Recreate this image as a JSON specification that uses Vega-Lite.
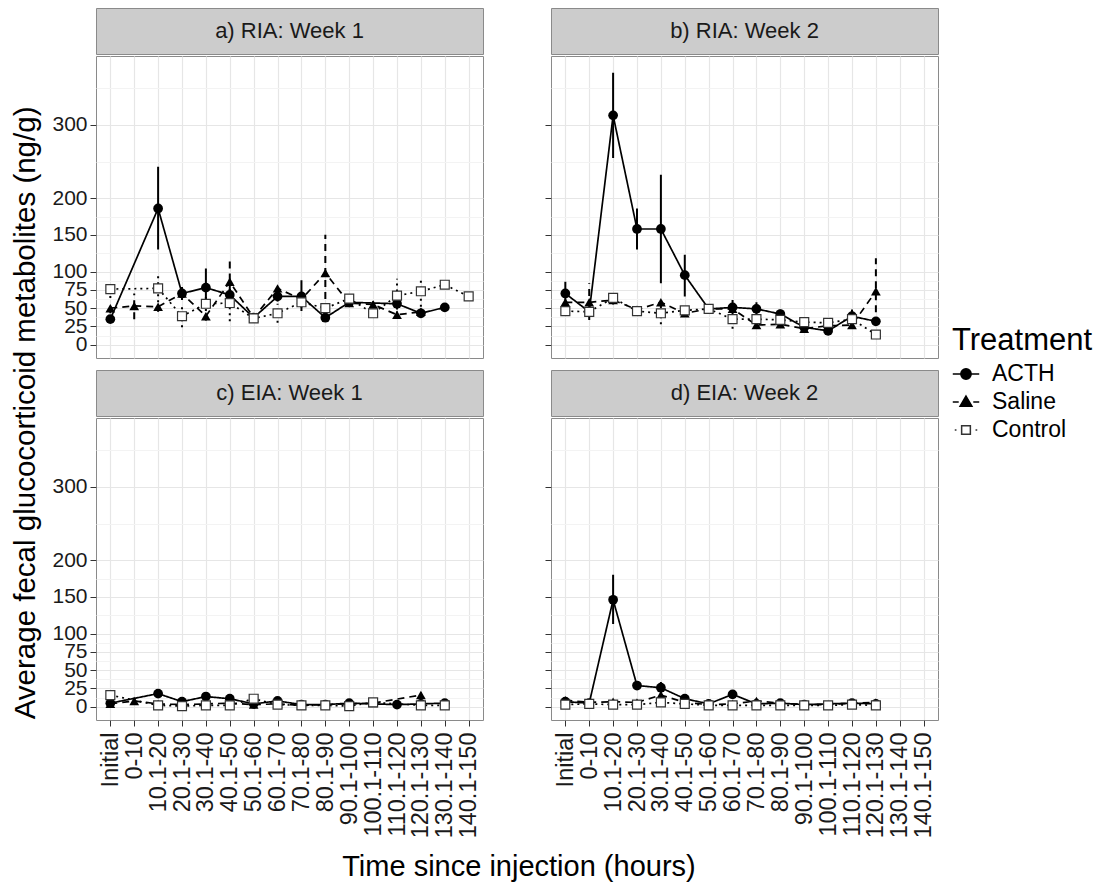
{
"$schema": "https://vega.github.io/schema/vega-lite/v6.json",
"padding": {"left": 10, "top": 7, "right": 0, "bottom": 0},
"config": {"font": "Liberation Sans"},
"datasets": {"d": [
{"p":"a","g":"ACTH","k":0,"t":"Initial","m":35,"lo":31,"hi":39},
{"p":"a","g":"ACTH","k":2,"t":"10.1-20","m":186,"lo":130,"hi":243},
{"p":"a","g":"ACTH","k":3,"t":"20.1-30","m":70,"lo":61,"hi":79},
{"p":"a","g":"ACTH","k":4,"t":"30.1-40","m":78,"lo":52,"hi":104},
{"p":"a","g":"ACTH","k":5,"t":"40.1-50","m":68,"lo":60,"hi":76},
{"p":"a","g":"ACTH","k":6,"t":"50.1-60","m":37,"lo":33,"hi":41},
{"p":"a","g":"ACTH","k":7,"t":"60.1-70","m":66,"lo":59,"hi":73},
{"p":"a","g":"ACTH","k":8,"t":"70.1-80","m":66,"lo":46,"hi":88},
{"p":"a","g":"ACTH","k":9,"t":"80.1-90","m":37,"lo":33,"hi":41},
{"p":"a","g":"ACTH","k":10,"t":"90.1-100","m":58,"lo":53,"hi":63},
{"p":"a","g":"ACTH","k":12,"t":"110.1-120","m":56,"lo":49,"hi":63},
{"p":"a","g":"ACTH","k":13,"t":"120.1-130","m":43,"lo":39,"hi":47},
{"p":"a","g":"ACTH","k":14,"t":"130.1-140","m":51,"lo":48,"hi":54},
{"p":"a","g":"Saline","k":0,"t":"Initial","m":50,"lo":43,"hi":57},
{"p":"a","g":"Saline","k":1,"t":"0-10","m":53,"lo":35,"hi":70},
{"p":"a","g":"Saline","k":2,"t":"10.1-20","m":52,"lo":45,"hi":59},
{"p":"a","g":"Saline","k":3,"t":"20.1-30","m":70,"lo":62,"hi":78},
{"p":"a","g":"Saline","k":4,"t":"30.1-40","m":39,"lo":33,"hi":45},
{"p":"a","g":"Saline","k":5,"t":"40.1-50","m":86,"lo":55,"hi":117},
{"p":"a","g":"Saline","k":6,"t":"50.1-60","m":37,"lo":33,"hi":41},
{"p":"a","g":"Saline","k":7,"t":"60.1-70","m":77,"lo":69,"hi":85},
{"p":"a","g":"Saline","k":8,"t":"70.1-80","m":62,"lo":56,"hi":68},
{"p":"a","g":"Saline","k":9,"t":"80.1-90","m":98,"lo":46,"hi":150},
{"p":"a","g":"Saline","k":10,"t":"90.1-100","m":57,"lo":52,"hi":62},
{"p":"a","g":"Saline","k":11,"t":"100.1-110","m":55,"lo":50,"hi":60},
{"p":"a","g":"Saline","k":12,"t":"110.1-120","m":41,"lo":36,"hi":46},
{"p":"a","g":"Saline","k":13,"t":"120.1-130","m":45,"lo":40,"hi":50},
{"p":"a","g":"Control","k":0,"t":"Initial","m":76,"lo":64,"hi":88},
{"p":"a","g":"Control","k":2,"t":"10.1-20","m":77,"lo":58,"hi":98},
{"p":"a","g":"Control","k":3,"t":"20.1-30","m":39,"lo":24,"hi":52},
{"p":"a","g":"Control","k":4,"t":"30.1-40","m":56,"lo":46,"hi":66},
{"p":"a","g":"Control","k":5,"t":"40.1-50","m":57,"lo":32,"hi":88},
{"p":"a","g":"Control","k":6,"t":"50.1-60","m":36,"lo":30,"hi":42},
{"p":"a","g":"Control","k":7,"t":"60.1-70","m":43,"lo":30,"hi":56},
{"p":"a","g":"Control","k":8,"t":"70.1-80","m":58,"lo":51,"hi":65},
{"p":"a","g":"Control","k":9,"t":"80.1-90","m":50,"lo":44,"hi":56},
{"p":"a","g":"Control","k":10,"t":"90.1-100","m":63,"lo":57,"hi":69},
{"p":"a","g":"Control","k":11,"t":"100.1-110","m":43,"lo":38,"hi":48},
{"p":"a","g":"Control","k":12,"t":"110.1-120","m":67,"lo":48,"hi":90},
{"p":"a","g":"Control","k":13,"t":"120.1-130","m":73,"lo":52,"hi":92},
{"p":"a","g":"Control","k":14,"t":"130.1-140","m":82,"lo":77,"hi":87},
{"p":"a","g":"Control","k":15,"t":"140.1-150","m":66,"lo":61,"hi":71},
{"p":"b","g":"ACTH","k":0,"t":"Initial","m":70,"lo":57,"hi":86},
{"p":"b","g":"ACTH","k":1,"t":"0-10","m":45,"lo":40,"hi":50},
{"p":"b","g":"ACTH","k":2,"t":"10.1-20","m":313,"lo":255,"hi":371},
{"p":"b","g":"ACTH","k":3,"t":"20.1-30","m":158,"lo":130,"hi":186},
{"p":"b","g":"ACTH","k":4,"t":"30.1-40","m":158,"lo":84,"hi":232},
{"p":"b","g":"ACTH","k":5,"t":"40.1-50","m":95,"lo":66,"hi":123},
{"p":"b","g":"ACTH","k":6,"t":"50.1-60","m":49,"lo":43,"hi":55},
{"p":"b","g":"ACTH","k":7,"t":"60.1-70","m":51,"lo":41,"hi":61},
{"p":"b","g":"ACTH","k":8,"t":"70.1-80","m":49,"lo":40,"hi":58},
{"p":"b","g":"ACTH","k":9,"t":"80.1-90","m":42,"lo":36,"hi":48},
{"p":"b","g":"ACTH","k":10,"t":"90.1-100","m":24,"lo":19,"hi":29},
{"p":"b","g":"ACTH","k":11,"t":"100.1-110","m":19,"lo":15,"hi":23},
{"p":"b","g":"ACTH","k":12,"t":"110.1-120","m":39,"lo":30,"hi":48},
{"p":"b","g":"ACTH","k":13,"t":"120.1-130","m":32,"lo":26,"hi":38},
{"p":"b","g":"Saline","k":0,"t":"Initial","m":58,"lo":50,"hi":66},
{"p":"b","g":"Saline","k":1,"t":"0-10","m":58,"lo":34,"hi":84},
{"p":"b","g":"Saline","k":2,"t":"10.1-20","m":61,"lo":55,"hi":67},
{"p":"b","g":"Saline","k":3,"t":"20.1-30","m":48,"lo":43,"hi":53},
{"p":"b","g":"Saline","k":4,"t":"30.1-40","m":58,"lo":50,"hi":66},
{"p":"b","g":"Saline","k":5,"t":"40.1-50","m":43,"lo":38,"hi":48},
{"p":"b","g":"Saline","k":6,"t":"50.1-60","m":49,"lo":44,"hi":54},
{"p":"b","g":"Saline","k":7,"t":"60.1-70","m":49,"lo":44,"hi":54},
{"p":"b","g":"Saline","k":8,"t":"70.1-80","m":27,"lo":22,"hi":32},
{"p":"b","g":"Saline","k":9,"t":"80.1-90","m":28,"lo":23,"hi":33},
{"p":"b","g":"Saline","k":10,"t":"90.1-100","m":22,"lo":18,"hi":26},
{"p":"b","g":"Saline","k":11,"t":"100.1-110","m":26,"lo":22,"hi":30},
{"p":"b","g":"Saline","k":12,"t":"110.1-120","m":27,"lo":22,"hi":32},
{"p":"b","g":"Saline","k":13,"t":"120.1-130","m":73,"lo":28,"hi":118},
{"p":"b","g":"Control","k":0,"t":"Initial","m":46,"lo":40,"hi":52},
{"p":"b","g":"Control","k":1,"t":"0-10","m":45,"lo":39,"hi":51},
{"p":"b","g":"Control","k":2,"t":"10.1-20","m":64,"lo":58,"hi":70},
{"p":"b","g":"Control","k":3,"t":"20.1-30","m":46,"lo":41,"hi":51},
{"p":"b","g":"Control","k":4,"t":"30.1-40","m":43,"lo":28,"hi":58},
{"p":"b","g":"Control","k":5,"t":"40.1-50","m":47,"lo":42,"hi":52},
{"p":"b","g":"Control","k":6,"t":"50.1-60","m":49,"lo":45,"hi":53},
{"p":"b","g":"Control","k":7,"t":"60.1-70","m":35,"lo":22,"hi":48},
{"p":"b","g":"Control","k":8,"t":"70.1-80","m":35,"lo":29,"hi":41},
{"p":"b","g":"Control","k":9,"t":"80.1-90","m":34,"lo":29,"hi":39},
{"p":"b","g":"Control","k":10,"t":"90.1-100","m":31,"lo":27,"hi":35},
{"p":"b","g":"Control","k":11,"t":"100.1-110","m":30,"lo":26,"hi":34},
{"p":"b","g":"Control","k":12,"t":"110.1-120","m":35,"lo":25,"hi":45},
{"p":"b","g":"Control","k":13,"t":"120.1-130","m":14,"lo":10,"hi":18},
{"p":"c","g":"ACTH","k":0,"t":"Initial","m":5,"lo":2,"hi":8},
{"p":"c","g":"ACTH","k":2,"t":"10.1-20","m":18,"lo":14,"hi":22},
{"p":"c","g":"ACTH","k":3,"t":"20.1-30","m":7,"lo":4,"hi":10},
{"p":"c","g":"ACTH","k":4,"t":"30.1-40","m":14,"lo":10,"hi":18},
{"p":"c","g":"ACTH","k":5,"t":"40.1-50","m":11,"lo":8,"hi":14},
{"p":"c","g":"ACTH","k":6,"t":"50.1-60","m":4,"lo":2,"hi":6},
{"p":"c","g":"ACTH","k":7,"t":"60.1-70","m":8,"lo":5,"hi":11},
{"p":"c","g":"ACTH","k":8,"t":"70.1-80","m":3,"lo":1,"hi":5},
{"p":"c","g":"ACTH","k":9,"t":"80.1-90","m":3,"lo":1,"hi":5},
{"p":"c","g":"ACTH","k":10,"t":"90.1-100","m":5,"lo":3,"hi":7},
{"p":"c","g":"ACTH","k":12,"t":"110.1-120","m":3,"lo":1,"hi":5},
{"p":"c","g":"ACTH","k":13,"t":"120.1-130","m":4,"lo":2,"hi":6},
{"p":"c","g":"ACTH","k":14,"t":"130.1-140","m":5,"lo":3,"hi":7},
{"p":"c","g":"Saline","k":0,"t":"Initial","m":4,"lo":2,"hi":6},
{"p":"c","g":"Saline","k":1,"t":"0-10","m":8,"lo":5,"hi":11},
{"p":"c","g":"Saline","k":2,"t":"10.1-20","m":4,"lo":2,"hi":6},
{"p":"c","g":"Saline","k":3,"t":"20.1-30","m":3,"lo":1,"hi":5},
{"p":"c","g":"Saline","k":4,"t":"30.1-40","m":4,"lo":2,"hi":6},
{"p":"c","g":"Saline","k":5,"t":"40.1-50","m":5,"lo":3,"hi":7},
{"p":"c","g":"Saline","k":6,"t":"50.1-60","m":3,"lo":1,"hi":5},
{"p":"c","g":"Saline","k":7,"t":"60.1-70","m":4,"lo":2,"hi":6},
{"p":"c","g":"Saline","k":8,"t":"70.1-80","m":2,"lo":1,"hi":3},
{"p":"c","g":"Saline","k":9,"t":"80.1-90","m":3,"lo":1,"hi":5},
{"p":"c","g":"Saline","k":10,"t":"90.1-100","m":4,"lo":2,"hi":6},
{"p":"c","g":"Saline","k":11,"t":"100.1-110","m":5,"lo":3,"hi":7},
{"p":"c","g":"Saline","k":13,"t":"120.1-130","m":16,"lo":10,"hi":22},
{"p":"c","g":"Control","k":0,"t":"Initial","m":16,"lo":9,"hi":24},
{"p":"c","g":"Control","k":2,"t":"10.1-20","m":2,"lo":1,"hi":3},
{"p":"c","g":"Control","k":3,"t":"20.1-30","m":1,"lo":0,"hi":2},
{"p":"c","g":"Control","k":4,"t":"30.1-40","m":2,"lo":1,"hi":3},
{"p":"c","g":"Control","k":5,"t":"40.1-50","m":2,"lo":1,"hi":3},
{"p":"c","g":"Control","k":6,"t":"50.1-60","m":11,"lo":6,"hi":16},
{"p":"c","g":"Control","k":7,"t":"60.1-70","m":3,"lo":1,"hi":5},
{"p":"c","g":"Control","k":8,"t":"70.1-80","m":2,"lo":1,"hi":3},
{"p":"c","g":"Control","k":9,"t":"80.1-90","m":2,"lo":1,"hi":3},
{"p":"c","g":"Control","k":10,"t":"90.1-100","m":1,"lo":0,"hi":2},
{"p":"c","g":"Control","k":11,"t":"100.1-110","m":6,"lo":3,"hi":9},
{"p":"c","g":"Control","k":13,"t":"120.1-130","m":2,"lo":1,"hi":3},
{"p":"c","g":"Control","k":14,"t":"130.1-140","m":2,"lo":1,"hi":3},
{"p":"d","g":"ACTH","k":0,"t":"Initial","m":7,"lo":4,"hi":10},
{"p":"d","g":"ACTH","k":1,"t":"0-10","m":5,"lo":3,"hi":7},
{"p":"d","g":"ACTH","k":2,"t":"10.1-20","m":146,"lo":113,"hi":180},
{"p":"d","g":"ACTH","k":3,"t":"20.1-30","m":29,"lo":25,"hi":33},
{"p":"d","g":"ACTH","k":4,"t":"30.1-40","m":26,"lo":18,"hi":34},
{"p":"d","g":"ACTH","k":5,"t":"40.1-50","m":11,"lo":8,"hi":14},
{"p":"d","g":"ACTH","k":6,"t":"50.1-60","m":4,"lo":2,"hi":6},
{"p":"d","g":"ACTH","k":7,"t":"60.1-70","m":17,"lo":13,"hi":21},
{"p":"d","g":"ACTH","k":8,"t":"70.1-80","m":4,"lo":2,"hi":6},
{"p":"d","g":"ACTH","k":9,"t":"80.1-90","m":5,"lo":3,"hi":7},
{"p":"d","g":"ACTH","k":10,"t":"90.1-100","m":3,"lo":1,"hi":5},
{"p":"d","g":"ACTH","k":12,"t":"110.1-120","m":5,"lo":3,"hi":7},
{"p":"d","g":"ACTH","k":13,"t":"120.1-130","m":4,"lo":2,"hi":6},
{"p":"d","g":"Saline","k":0,"t":"Initial","m":9,"lo":6,"hi":12},
{"p":"d","g":"Saline","k":1,"t":"0-10","m":6,"lo":4,"hi":8},
{"p":"d","g":"Saline","k":2,"t":"10.1-20","m":7,"lo":5,"hi":9},
{"p":"d","g":"Saline","k":3,"t":"20.1-30","m":6,"lo":4,"hi":8},
{"p":"d","g":"Saline","k":4,"t":"30.1-40","m":16,"lo":9,"hi":23},
{"p":"d","g":"Saline","k":5,"t":"40.1-50","m":6,"lo":4,"hi":8},
{"p":"d","g":"Saline","k":6,"t":"50.1-60","m":3,"lo":1,"hi":5},
{"p":"d","g":"Saline","k":7,"t":"60.1-70","m":4,"lo":2,"hi":6},
{"p":"d","g":"Saline","k":8,"t":"70.1-80","m":8,"lo":5,"hi":11},
{"p":"d","g":"Saline","k":9,"t":"80.1-90","m":5,"lo":3,"hi":7},
{"p":"d","g":"Saline","k":10,"t":"90.1-100","m":3,"lo":1,"hi":5},
{"p":"d","g":"Saline","k":11,"t":"100.1-110","m":3,"lo":1,"hi":5},
{"p":"d","g":"Saline","k":12,"t":"110.1-120","m":5,"lo":3,"hi":7},
{"p":"d","g":"Saline","k":13,"t":"120.1-130","m":6,"lo":4,"hi":8},
{"p":"d","g":"Control","k":0,"t":"Initial","m":3,"lo":1,"hi":5},
{"p":"d","g":"Control","k":1,"t":"0-10","m":4,"lo":2,"hi":6},
{"p":"d","g":"Control","k":2,"t":"10.1-20","m":3,"lo":1,"hi":5},
{"p":"d","g":"Control","k":3,"t":"20.1-30","m":3,"lo":1,"hi":5},
{"p":"d","g":"Control","k":4,"t":"30.1-40","m":6,"lo":1,"hi":11},
{"p":"d","g":"Control","k":5,"t":"40.1-50","m":4,"lo":2,"hi":6},
{"p":"d","g":"Control","k":6,"t":"50.1-60","m":2,"lo":1,"hi":3},
{"p":"d","g":"Control","k":7,"t":"60.1-70","m":2,"lo":1,"hi":3},
{"p":"d","g":"Control","k":8,"t":"70.1-80","m":2,"lo":1,"hi":3},
{"p":"d","g":"Control","k":9,"t":"80.1-90","m":2,"lo":1,"hi":3},
{"p":"d","g":"Control","k":10,"t":"90.1-100","m":2,"lo":1,"hi":3},
{"p":"d","g":"Control","k":11,"t":"100.1-110","m":2,"lo":1,"hi":3},
{"p":"d","g":"Control","k":12,"t":"110.1-120","m":3,"lo":1,"hi":5},
{"p":"d","g":"Control","k":13,"t":"120.1-130","m":2,"lo":1,"hi":3}
]},
"title": {"text": "Average fecal glucocorticoid metabolites (ng/g)", "orient": "left", "anchor": "middle", "fontSize": 29.5, "fontWeight": "normal", "color": "#000000", "offset": 10, "dx": 32},
"spacing": 10,
"vconcat": [
{"spacing": 60, "hconcat": [
 {"spacing": 0, "vconcat": [
  {"width": 387, "height": 46, "view": {"fill": "#cccccc", "stroke": "#8a8a8a"}, "data": {"values": [{"s": "a) RIA: Week 1"}]}, "mark": {"type": "text", "fontSize": 22, "color": "#1a1a1a"}, "encoding": {"text": {"field": "s", "type": "nominal"}}},
  {"width": 387, "height": 302, "view": {"stroke": "#8a8a8a"}, "data": {"name": "d"}, "transform": [{"filter": "datum.p === 'a'"}], "resolve": {"axis": {"y": "independent"}},
   "layer": [
    {"mark": {"type": "rule", "color": "black", "strokeWidth": 2}, "encoding": {
      "x": {"field": "t", "type": "nominal", "scale": {"type": "point", "padding": 0.6, "domain": ["Initial","0-10","10.1-20","20.1-30","30.1-40","40.1-50","50.1-60","60.1-70","70.1-80","80.1-90","90.1-100","100.1-110","110.1-120","120.1-130","130.1-140","140.1-150"]}, "axis": {"title": null, "labels": false, "ticks": false, "domain": false, "grid": true, "gridColor": "#e6e6e6", "gridWidth": 1.2}},
      "y": {"field": "lo", "type": "quantitative", "scale": {"domain": [-18, 394], "nice": false, "zero": false}, "axis": {"title": null, "values": [0,25,50,75,100,150,200,300], "labelOverlap": false, "labelFontSize": 21, "labelColor": "#1a1a1a", "labelPadding": 3, "tickSize": 6, "tickColor": "#333333", "domain": false, "grid": true, "gridColor": "#e6e6e6", "gridWidth": 1.2}},
      "y2": {"field": "hi"},
      "strokeDash": {"field": "g", "type": "nominal", "scale": {"range": [[1,0],[2,4],[7,5]]}, "legend": null}}},
    {"mark": {"type": "line", "color": "black", "strokeWidth": 1.7}, "encoding": {
      "x": {"field": "t", "type": "nominal"},
      "y": {"field": "m", "type": "quantitative", "axis": {"orient": "left", "title": null, "values": [12.5,37.5,62.5,87.5,125,175,250,350], "labels": false, "ticks": false, "domain": false, "grid": true, "gridColor": "#f3f3f3"}},
      "strokeDash": {"field": "g", "type": "nominal", "scale": {"range": [[1,0],[2,4],[7,5]]}, "legend": null},
      "order": {"field": "k", "type": "quantitative"}}},
    {"transform": [{"filter": "datum.g === 'ACTH'"}], "mark": {"type": "point", "shape": "circle", "filled": true, "color": "black", "opacity": 1, "size": 95}, "encoding": {"x": {"field": "t", "type": "nominal"}, "y": {"field": "m", "type": "quantitative", "axis": null}}},
    {"transform": [{"filter": "datum.g === 'Saline'"}], "mark": {"type": "point", "shape": "triangle-up", "filled": true, "color": "black", "opacity": 1, "size": 95}, "encoding": {"x": {"field": "t", "type": "nominal"}, "y": {"field": "m", "type": "quantitative", "axis": null}}},
    {"transform": [{"filter": "datum.g === 'Control'"}], "mark": {"type": "point", "shape": "square", "fill": "white", "stroke": "#333333", "strokeWidth": 1.2, "opacity": 1, "size": 80}, "encoding": {"x": {"field": "t", "type": "nominal"}, "y": {"field": "m", "type": "quantitative", "axis": null}}},
    {"mark": {"type": "point", "filled": true, "opacity": 0}, "encoding": {
      "shape": {"field": "g", "type": "nominal", "scale": {"domain": ["ACTH","Saline","Control"], "range": ["M-1,0L1,0M0.39,0A0.39,0.39,0,1,1,-0.39,0A0.39,0.39,0,1,1,0.39,0Z", "M-1,0L-0.55,0M0.55,0L1,0M0,-0.45L0.45,0.33L-0.45,0.33Z", "M-0.85,0L-0.72,0M0.72,0L0.85,0M-0.33,-0.33L0.33,-0.33L0.33,0.33L-0.33,0.33Z"]}, "legend": {"title": "Treatment", "orient": "none", "legendX": 856, "legendY": 318, "padding": 0, "titleFontSize": 31, "titleFontWeight": "normal", "titleColor": "#000000", "titlePadding": 3, "labelFontSize": 23, "labelColor": "#000000", "symbolSize": 700, "symbolStrokeWidth": 1.5, "symbolOpacity": 1, "labelOffset": 12, "rowPadding": 2}},
      "fill": {"field": "g", "type": "nominal", "scale": {"domain": ["ACTH","Saline","Control"], "range": ["black","black","white"]}, "legend": {"title": "Treatment", "orient": "none", "legendX": 856, "legendY": 318, "padding": 0, "titleFontSize": 31, "titleFontWeight": "normal", "titleColor": "#000000", "titlePadding": 3, "labelFontSize": 23, "labelColor": "#000000", "symbolSize": 700, "symbolStrokeWidth": 1.5, "symbolOpacity": 1, "labelOffset": 12, "rowPadding": 2}},
      "stroke": {"field": "g", "type": "nominal", "scale": {"domain": ["ACTH","Saline","Control"], "range": ["black","black","#333333"]}, "legend": {"title": "Treatment", "orient": "none", "legendX": 856, "legendY": 318, "padding": 0, "titleFontSize": 31, "titleFontWeight": "normal", "titleColor": "#000000", "titlePadding": 3, "labelFontSize": 23, "labelColor": "#000000", "symbolSize": 700, "symbolStrokeWidth": 1.5, "symbolOpacity": 1, "labelOffset": 12, "rowPadding": 2}}}}
   ]}
 ]},
 {"spacing": 0, "vconcat": [
  {"width": 387, "height": 46, "view": {"fill": "#cccccc", "stroke": "#8a8a8a"}, "data": {"values": [{"s": "b) RIA: Week 2"}]}, "mark": {"type": "text", "fontSize": 22, "color": "#1a1a1a"}, "encoding": {"text": {"field": "s", "type": "nominal"}}},
  {"width": 387, "height": 302, "view": {"stroke": "#8a8a8a"}, "data": {"name": "d"}, "transform": [{"filter": "datum.p === 'b'"}], "resolve": {"axis": {"y": "independent"}},
   "layer": [
    {"mark": {"type": "rule", "color": "black", "strokeWidth": 2}, "encoding": {
      "x": {"field": "t", "type": "nominal", "scale": {"type": "point", "padding": 0.6, "domain": ["Initial","0-10","10.1-20","20.1-30","30.1-40","40.1-50","50.1-60","60.1-70","70.1-80","80.1-90","90.1-100","100.1-110","110.1-120","120.1-130","130.1-140","140.1-150"]}, "axis": {"title": null, "labels": false, "ticks": false, "domain": false, "grid": true, "gridColor": "#e6e6e6", "gridWidth": 1.2}},
      "y": {"field": "lo", "type": "quantitative", "scale": {"domain": [-18, 394], "nice": false, "zero": false}, "axis": {"title": null, "values": [0,25,50,75,100,150,200,300], "labels": false, "tickSize": 6, "tickColor": "#333333", "domain": false, "grid": true, "gridColor": "#e6e6e6", "gridWidth": 1.2}},
      "y2": {"field": "hi"},
      "strokeDash": {"field": "g", "type": "nominal", "scale": {"range": [[1,0],[2,4],[7,5]]}, "legend": null}}},
    {"mark": {"type": "line", "color": "black", "strokeWidth": 1.7}, "encoding": {
      "x": {"field": "t", "type": "nominal"},
      "y": {"field": "m", "type": "quantitative", "axis": {"orient": "left", "title": null, "values": [12.5,37.5,62.5,87.5,125,175,250,350], "labels": false, "ticks": false, "domain": false, "grid": true, "gridColor": "#f3f3f3"}},
      "strokeDash": {"field": "g", "type": "nominal", "scale": {"range": [[1,0],[2,4],[7,5]]}, "legend": null},
      "order": {"field": "k", "type": "quantitative"}}},
    {"transform": [{"filter": "datum.g === 'ACTH'"}], "mark": {"type": "point", "shape": "circle", "filled": true, "color": "black", "opacity": 1, "size": 95}, "encoding": {"x": {"field": "t", "type": "nominal"}, "y": {"field": "m", "type": "quantitative", "axis": null}}},
    {"transform": [{"filter": "datum.g === 'Saline'"}], "mark": {"type": "point", "shape": "triangle-up", "filled": true, "color": "black", "opacity": 1, "size": 95}, "encoding": {"x": {"field": "t", "type": "nominal"}, "y": {"field": "m", "type": "quantitative", "axis": null}}},
    {"transform": [{"filter": "datum.g === 'Control'"}], "mark": {"type": "point", "shape": "square", "fill": "white", "stroke": "#333333", "strokeWidth": 1.2, "opacity": 1, "size": 80}, "encoding": {"x": {"field": "t", "type": "nominal"}, "y": {"field": "m", "type": "quantitative", "axis": null}}}
   ]}
 ]}
]},
{"spacing": 60, "title": {"text": "Time since injection (hours)", "orient": "bottom", "anchor": "middle", "fontSize": 29, "fontWeight": "normal", "color": "#000000", "offset": 15, "dx": 24}, "hconcat": [
 {"spacing": 0, "vconcat": [
  {"width": 387, "height": 46, "view": {"fill": "#cccccc", "stroke": "#8a8a8a"}, "data": {"values": [{"s": "c) EIA: Week 1"}]}, "mark": {"type": "text", "fontSize": 22, "color": "#1a1a1a"}, "encoding": {"text": {"field": "s", "type": "nominal"}}},
  {"width": 387, "height": 302, "view": {"stroke": "#8a8a8a"}, "data": {"name": "d"}, "transform": [{"filter": "datum.p === 'c'"}], "resolve": {"axis": {"y": "independent"}},
   "layer": [
    {"mark": {"type": "rule", "color": "black", "strokeWidth": 2}, "encoding": {
      "x": {"field": "t", "type": "nominal", "scale": {"type": "point", "padding": 0.6, "domain": ["Initial","0-10","10.1-20","20.1-30","30.1-40","40.1-50","50.1-60","60.1-70","70.1-80","80.1-90","90.1-100","100.1-110","110.1-120","120.1-130","130.1-140","140.1-150"]}, "axis": {"title": null, "labelAngle": 270, "labelAlign": "right", "labelBaseline": "middle", "labelFontSize": 23.5, "labelColor": "#1a1a1a", "labelPadding": 6, "labelOverlap": false, "labelLimit": 0, "tickSize": 6, "tickColor": "#333333", "domain": false, "grid": true, "gridColor": "#e6e6e6", "gridWidth": 1.2}},
      "y": {"field": "lo", "type": "quantitative", "scale": {"domain": [-18, 394], "nice": false, "zero": false}, "axis": {"title": null, "values": [0,25,50,75,100,150,200,300], "labelOverlap": false, "labelFontSize": 21, "labelColor": "#1a1a1a", "labelPadding": 3, "tickSize": 6, "tickColor": "#333333", "domain": false, "grid": true, "gridColor": "#e6e6e6", "gridWidth": 1.2}},
      "y2": {"field": "hi"},
      "strokeDash": {"field": "g", "type": "nominal", "scale": {"range": [[1,0],[2,4],[7,5]]}, "legend": null}}},
    {"mark": {"type": "line", "color": "black", "strokeWidth": 1.7}, "encoding": {
      "x": {"field": "t", "type": "nominal"},
      "y": {"field": "m", "type": "quantitative", "axis": {"orient": "left", "title": null, "values": [12.5,37.5,62.5,87.5,125,175,250,350], "labels": false, "ticks": false, "domain": false, "grid": true, "gridColor": "#f3f3f3"}},
      "strokeDash": {"field": "g", "type": "nominal", "scale": {"range": [[1,0],[2,4],[7,5]]}, "legend": null},
      "order": {"field": "k", "type": "quantitative"}}},
    {"transform": [{"filter": "datum.g === 'ACTH'"}], "mark": {"type": "point", "shape": "circle", "filled": true, "color": "black", "opacity": 1, "size": 95}, "encoding": {"x": {"field": "t", "type": "nominal"}, "y": {"field": "m", "type": "quantitative", "axis": null}}},
    {"transform": [{"filter": "datum.g === 'Saline'"}], "mark": {"type": "point", "shape": "triangle-up", "filled": true, "color": "black", "opacity": 1, "size": 95}, "encoding": {"x": {"field": "t", "type": "nominal"}, "y": {"field": "m", "type": "quantitative", "axis": null}}},
    {"transform": [{"filter": "datum.g === 'Control'"}], "mark": {"type": "point", "shape": "square", "fill": "white", "stroke": "#333333", "strokeWidth": 1.2, "opacity": 1, "size": 80}, "encoding": {"x": {"field": "t", "type": "nominal"}, "y": {"field": "m", "type": "quantitative", "axis": null}}}
   ]}
 ]},
 {"spacing": 0, "vconcat": [
  {"width": 387, "height": 46, "view": {"fill": "#cccccc", "stroke": "#8a8a8a"}, "data": {"values": [{"s": "d) EIA: Week 2"}]}, "mark": {"type": "text", "fontSize": 22, "color": "#1a1a1a"}, "encoding": {"text": {"field": "s", "type": "nominal"}}},
  {"width": 387, "height": 302, "view": {"stroke": "#8a8a8a"}, "data": {"name": "d"}, "transform": [{"filter": "datum.p === 'd'"}], "resolve": {"axis": {"y": "independent"}},
   "layer": [
    {"mark": {"type": "rule", "color": "black", "strokeWidth": 2}, "encoding": {
      "x": {"field": "t", "type": "nominal", "scale": {"type": "point", "padding": 0.6, "domain": ["Initial","0-10","10.1-20","20.1-30","30.1-40","40.1-50","50.1-60","60.1-70","70.1-80","80.1-90","90.1-100","100.1-110","110.1-120","120.1-130","130.1-140","140.1-150"]}, "axis": {"title": null, "labelAngle": 270, "labelAlign": "right", "labelBaseline": "middle", "labelFontSize": 23.5, "labelColor": "#1a1a1a", "labelPadding": 6, "labelOverlap": false, "labelLimit": 0, "tickSize": 6, "tickColor": "#333333", "domain": false, "grid": true, "gridColor": "#e6e6e6", "gridWidth": 1.2}},
      "y": {"field": "lo", "type": "quantitative", "scale": {"domain": [-18, 394], "nice": false, "zero": false}, "axis": {"title": null, "values": [0,25,50,75,100,150,200,300], "labels": false, "tickSize": 6, "tickColor": "#333333", "domain": false, "grid": true, "gridColor": "#e6e6e6", "gridWidth": 1.2}},
      "y2": {"field": "hi"},
      "strokeDash": {"field": "g", "type": "nominal", "scale": {"range": [[1,0],[2,4],[7,5]]}, "legend": null}}},
    {"mark": {"type": "line", "color": "black", "strokeWidth": 1.7}, "encoding": {
      "x": {"field": "t", "type": "nominal"},
      "y": {"field": "m", "type": "quantitative", "axis": {"orient": "left", "title": null, "values": [12.5,37.5,62.5,87.5,125,175,250,350], "labels": false, "ticks": false, "domain": false, "grid": true, "gridColor": "#f3f3f3"}},
      "strokeDash": {"field": "g", "type": "nominal", "scale": {"range": [[1,0],[2,4],[7,5]]}, "legend": null},
      "order": {"field": "k", "type": "quantitative"}}},
    {"transform": [{"filter": "datum.g === 'ACTH'"}], "mark": {"type": "point", "shape": "circle", "filled": true, "color": "black", "opacity": 1, "size": 95}, "encoding": {"x": {"field": "t", "type": "nominal"}, "y": {"field": "m", "type": "quantitative", "axis": null}}},
    {"transform": [{"filter": "datum.g === 'Saline'"}], "mark": {"type": "point", "shape": "triangle-up", "filled": true, "color": "black", "opacity": 1, "size": 95}, "encoding": {"x": {"field": "t", "type": "nominal"}, "y": {"field": "m", "type": "quantitative", "axis": null}}},
    {"transform": [{"filter": "datum.g === 'Control'"}], "mark": {"type": "point", "shape": "square", "fill": "white", "stroke": "#333333", "strokeWidth": 1.2, "opacity": 1, "size": 80}, "encoding": {"x": {"field": "t", "type": "nominal"}, "y": {"field": "m", "type": "quantitative", "axis": null}}}
   ]}
 ]}
]}
]
}
